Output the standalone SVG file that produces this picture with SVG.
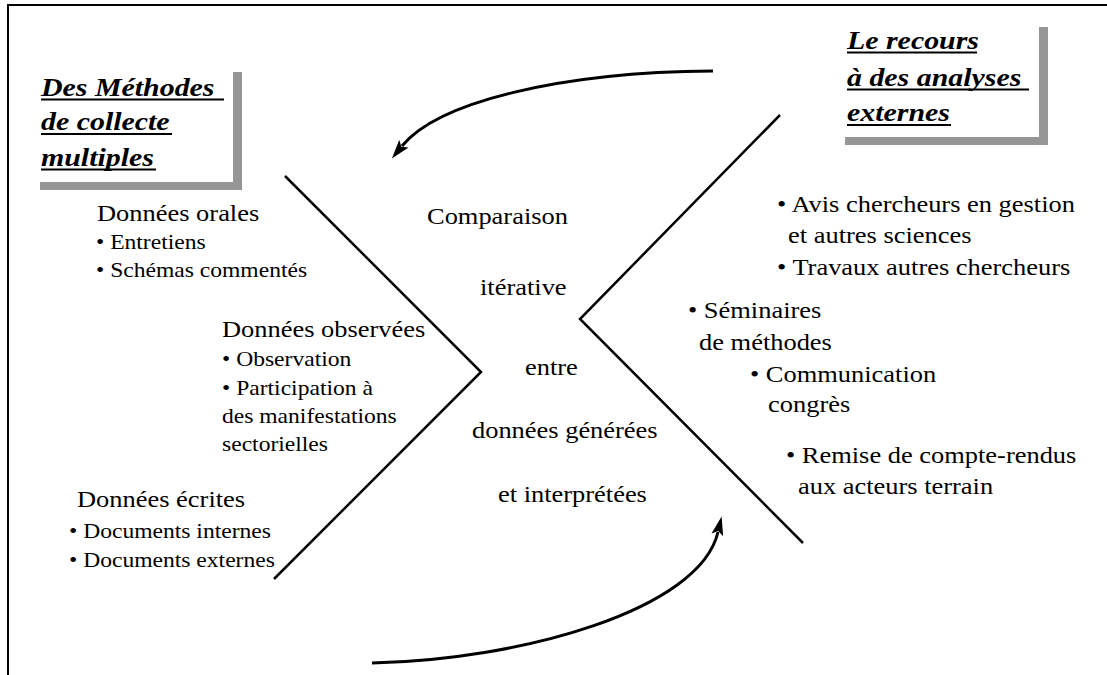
<svg xmlns="http://www.w3.org/2000/svg" width="1107" height="675" viewBox="0 0 1107 675">
  <style>
    .t { font-family: "Liberation Serif", "Times New Roman", serif; fill: #000; }
    .big { font-size: 23px; }
    .small { font-size: 20.5px; }
    .title { font-family: "Liberation Serif", "Times New Roman", serif; font-size: 26px; font-weight: bold; font-style: italic; fill: #000; }
    .ul { stroke: #000; stroke-width: 2; }
    .frame { stroke: #000; stroke-width: 2; fill: none; }
    .fork { stroke: #000; stroke-width: 2.5; fill: none; stroke-linejoin: miter; }
    .loop { stroke: #000; stroke-width: 3; fill: none; marker-end: url(#head); }
    .shadow { fill: #969696; }
    .card { fill: #fff; }
  </style>
  <defs>
    <marker id="head" markerUnits="userSpaceOnUse" viewBox="0 0 19 12" refX="3" refY="6" markerWidth="19" markerHeight="12" orient="auto">
      <path d="M0,0 L19,6 L0,12 L4,6 z" fill="#000"/>
    </marker>
  </defs>

  <rect width="1107" height="675" fill="#fff"/>

  <!-- page frame: top and left rules only -->
  <path class="frame" d="M8,675 V5 H1107"/>

  <!-- title card: collection methods -->
  <g id="title-methodes">
    <rect class="shadow" x="40" y="72" width="202" height="118"/>
    <rect class="card" x="40" y="72" width="193" height="110"/>
    <g transform="matrix(1.15 0 0 1 41 0)">
      <text class="title" x="0" y="96">Des Méthodes</text>
      <text class="title" x="0" y="130.5">de collecte</text>
      <text class="title" x="0" y="166">multiples</text>
    </g>
    <line class="ul" x1="41" y1="99.5" x2="224" y2="99.5"/>
    <line class="ul" x1="41" y1="134" x2="172" y2="134"/>
    <line class="ul" x1="41" y1="169.5" x2="156" y2="169.5"/>
  </g>

  <!-- title card: external analyses -->
  <g id="title-recours">
    <rect class="shadow" x="845" y="27" width="203" height="118"/>
    <rect class="card" x="845" y="27" width="194" height="110"/>
    <g transform="matrix(1.15 0 0 1 847 0)">
      <text class="title" x="0" y="49">Le recours</text>
      <text class="title" x="0" y="86">à des analyses</text>
      <text class="title" x="0" y="121.5">externes</text>
    </g>
    <line class="ul" x1="847" y1="52.5" x2="977" y2="52.5"/>
    <line class="ul" x1="847" y1="89.5" x2="1029" y2="89.5"/>
    <line class="ul" x1="847" y1="125" x2="951" y2="125"/>
  </g>

  <!-- connectors: the two chevrons and the feedback arrows -->
  <g id="connectors">
    <polyline class="fork" points="285,176 481,372 274,579"/>
    <polyline class="fork" points="780,115 580,319 803,543"/>
    <path class="loop" d="M713,71 C560,72 438,102 402,146"/>
    <path class="loop" d="M372,663 C520,660 700,610 718,532"/>
  </g>

  <g id="donnees-orales" class="t" transform="matrix(1.15 0 0 1 96 0)">
    <text class="big" x="0.9" y="221">Données orales</text>
    <text class="small" x="0" y="249">• Entretiens</text>
    <text class="small" x="0" y="277">• Schémas commentés</text>
  </g>

  <g id="donnees-observees" class="t" transform="matrix(1.15 0 0 1 222 0)">
    <text class="big" x="0" y="337">Données observées</text>
    <text class="small" x="0" y="366">• Observation</text>
    <text class="small" x="0" y="395">• Participation à</text>
    <text class="small" x="0" y="423">des manifestations</text>
    <text class="small" x="0" y="451">sectorielles</text>
  </g>

  <g id="donnees-ecrites" class="t" transform="matrix(1.15 0 0 1 69 0)">
    <text class="big" x="7" y="507">Données écrites</text>
    <text class="small" x="0" y="538">• Documents internes</text>
    <text class="small" x="0" y="567">• Documents externes</text>
  </g>

  <g id="comparaison" class="t" transform="matrix(1.15 0 0 1 427 0)">
    <text class="big" x="0" y="224">Comparaison</text>
    <text class="big" x="46.1" y="295">itérative</text>
    <text class="big" x="85.2" y="375">entre</text>
    <text class="big" x="39.1" y="438">données générées</text>
    <text class="big" x="61.7" y="502">et interprétées</text>
  </g>

  <g id="avis-travaux" class="t" transform="matrix(1.15 0 0 1 777 0)">
    <text class="big" x="0" y="212">• Avis chercheurs en gestion</text>
    <text class="big" x="9.6" y="243">et autres sciences</text>
    <text class="big" x="0" y="275">• Travaux autres chercheurs</text>
  </g>

  <g id="seminaires" class="t" transform="matrix(1.15 0 0 1 688 0)">
    <text class="big" x="0" y="318">• Séminaires</text>
    <text class="big" x="9.6" y="350">de méthodes</text>
  </g>

  <g id="communication" class="t" transform="matrix(1.15 0 0 1 750 0)">
    <text class="big" x="0" y="382">• Communication</text>
    <text class="big" x="15.7" y="412">congrès</text>
  </g>

  <g id="remise" class="t" transform="matrix(1.15 0 0 1 786 0)">
    <text class="big" x="0" y="463">• Remise de compte-rendus</text>
    <text class="big" x="10.4" y="494">aux acteurs terrain</text>
  </g>
</svg>
